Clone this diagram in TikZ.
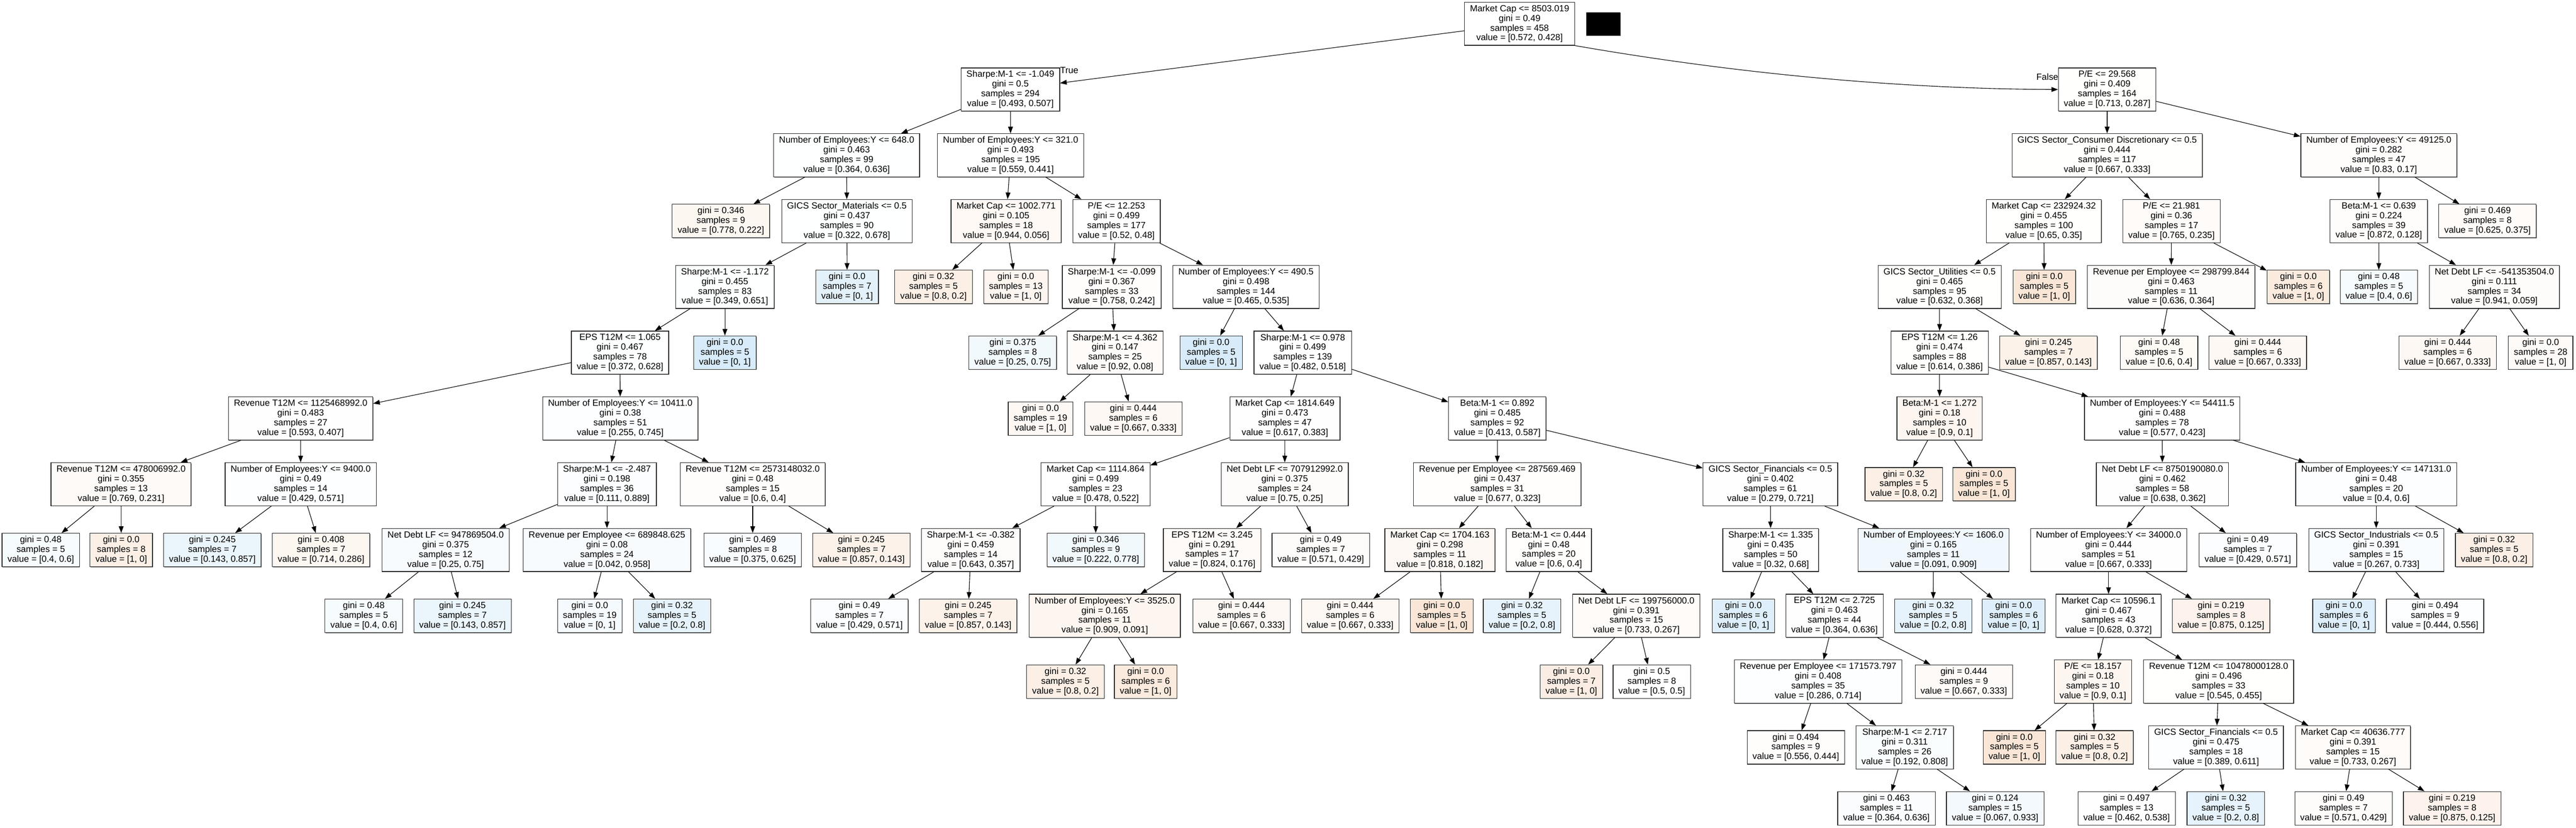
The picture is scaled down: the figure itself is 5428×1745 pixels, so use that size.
\documentclass[tikz,border=0pt]{standalone}
\usepackage{fontspec}
\setmainfont{Liberation Sans}
\usetikzlibrary{arrows.meta,shadows}
\definecolor{cO}{RGB}{229,129,57}
\definecolor{cB}{RGB}{57,157,229}
\newcommand\tfs{\fontsize{18.9}{20.5}\selectfont}
\tikzset{
 tnode/.style={draw=black!85, line width=1.3pt, rectangle, inner xsep=11.5pt, inner ysep=3pt,
   minimum height=91pt, align=center, font=\tfs,
   drop shadow={shadow xshift=1pt, shadow yshift=-1.2pt, fill=black!50, opacity=1}},
 leafbox/.style={tnode, minimum height=70.5pt},
 conn/.style={line width=1.2pt, -{Triangle[length=14pt,width=10pt]}},
 lbl/.style={font=\tfs, inner sep=0pt},
}
% decision node: name, x, y, condition, gini, samples, v0, v1
\newcommand\tnd[8]{%
 \pgfmathsetmacro\tmpal{100*abs(#7-#8)/(#6-min(#7,#8))}%
 \pgfmathtruncatemacro\tmpisb{(#7<#8)}%
 \ifnum\tmpisb=1 \def\tmpcc{cB}\else\def\tmpcc{cO}\fi
 \node[tnode, fill=\tmpcc!\tmpal!white] (#1) at (#2,#3) {#4\\gini = #5\\samples = #6\\value = [#7, #8]};}
% leaf: name, x, y, gini, samples, v0, v1
\newcommand\tlf[7]{%
 \pgfmathsetmacro\tmpal{100*abs(#6-#7)/(#5-min(#6,#7))}%
 \pgfmathtruncatemacro\tmpisb{(#6<#7)}%
 \ifnum\tmpisb=1 \def\tmpcc{cB}\else\def\tmpcc{cO}\fi
 \node[leafbox, fill=\tmpcc!\tmpal!white] (#1) at (#2,#3) {gini = #4\\samples = #5\\value = [#6, #7]};}
\begin{document}
\begin{tikzpicture}[x=1pt,y=-1pt]
\useasboundingbox (0,0) rectangle (5428,1745);
\fill[white] (0,0) rectangle (5428,1745);
% level 0
\tnd{n0}{3202}{50}{Market Cap <= 8503.019}{0.49}{458}{0.572}{0.428}
\node[fill=black, minimum width=72pt, minimum height=49pt, inner sep=0pt,
  drop shadow={shadow xshift=1pt, shadow yshift=-1.2pt, fill=black!50, opacity=1}] (blk) at (3378,50.5) {};
% level 1
\tnd{n1}{2129}{188.7}{Sharpe:M-1 <= -1.049}{0.5}{294}{0.493}{0.507}
\tnd{n2}{4440}{188.7}{P/E <= 29.568}{0.409}{164}{0.713}{0.287}
% level 2
\tnd{n3}{1784}{327.4}{Number of Employees:Y <= 648.0}{0.463}{99}{0.364}{0.636}
\tnd{n4}{2129.5}{327.4}{Number of Employees:Y <= 321.0}{0.493}{195}{0.559}{0.441}
\tnd{n5}{4440}{327.4}{GICS Sector\_Consumer Discretionary <= 0.5}{0.444}{117}{0.667}{0.333}
\tnd{n6}{5012.5}{327.4}{Number of Employees:Y <= 49125.0}{0.282}{47}{0.83}{0.17}
% level 3
\tlf{n7}{1519}{466.1}{0.346}{9}{0.778}{0.222}
\tnd{n8}{1784.5}{466.1}{GICS Sector\_Materials <= 0.5}{0.437}{90}{0.322}{0.678}
\tnd{n9}{2120}{466.1}{Market Cap <= 1002.771}{0.105}{18}{0.944}{0.056}
\tnd{n10}{2352.5}{466.1}{P/E <= 12.253}{0.499}{177}{0.52}{0.48}
\tnd{n11}{4306.5}{466.1}{Market Cap <= 232924.32}{0.455}{100}{0.65}{0.35}
\tnd{n12}{4575.5}{466.1}{P/E <= 21.981}{0.36}{17}{0.765}{0.235}
\tnd{n13}{5012.5}{466.1}{Beta:M-1 <= 0.639}{0.224}{39}{0.872}{0.128}
\tlf{n14}{5241.5}{466.1}{0.469}{8}{0.625}{0.375}
% level 4
\tnd{n15}{1527.5}{604.8}{Sharpe:M-1 <= -1.172}{0.455}{83}{0.349}{0.651}
\tlf{n16}{1785}{604.8}{0.0}{7}{0}{1}
\tlf{n17}{1967}{604.8}{0.32}{5}{0.8}{0.2}
\tlf{n18}{2140.5}{604.8}{0.0}{13}{1}{0}
\tnd{n19}{2342.5}{604.8}{Sharpe:M-1 <= -0.099}{0.367}{33}{0.758}{0.242}
\tnd{n20}{2625.5}{604.8}{Number of Employees:Y <= 490.5}{0.498}{144}{0.465}{0.535}
\tnd{n21}{4087}{604.8}{GICS Sector\_Utilities <= 0.5}{0.465}{95}{0.632}{0.368}
\tlf{n22}{4307.5}{604.8}{0.0}{5}{1}{0}
\tnd{n23}{4575}{604.8}{Revenue per Employee <= 298799.844}{0.463}{11}{0.636}{0.364}
\tlf{n24}{4843}{604.8}{0.0}{6}{1}{0}
\tlf{n25}{5012.5}{604.8}{0.48}{5}{0.4}{0.6}
\tnd{n26}{5256}{604.8}{Net Debt LF <= -541353504.0}{0.111}{34}{0.941}{0.059}
% level 5
\tnd{n27}{1306.5}{743.5}{EPS T12M <= 1.065}{0.467}{78}{0.372}{0.628}
\tlf{n28}{1527.5}{743.5}{0.0}{5}{0}{1}
\tlf{n29}{2134}{743.5}{0.375}{8}{0.25}{0.75}
\tnd{n30}{2349.5}{743.5}{Sharpe:M-1 <= 4.362}{0.147}{25}{0.92}{0.08}
\tlf{n31}{2552}{743.5}{0.0}{5}{0}{1}
\tnd{n32}{2745}{743.5}{Sharpe:M-1 <= 0.978}{0.499}{139}{0.482}{0.518}
\tnd{n33}{4087}{743.5}{EPS T12M <= 1.26}{0.474}{88}{0.614}{0.386}
\tlf{n34}{4316.5}{743.5}{0.245}{7}{0.857}{0.143}
\tlf{n35}{4549.5}{743.5}{0.48}{5}{0.6}{0.4}
\tlf{n36}{4757.5}{743.5}{0.444}{6}{0.667}{0.333}
\tlf{n37}{5157.5}{743.5}{0.444}{6}{0.667}{0.333}
\tlf{n38}{5353.5}{743.5}{0.0}{28}{1}{0}
% level 6
\tnd{n39}{633.5}{882.2}{Revenue T12M <= 1125468992.0}{0.483}{27}{0.593}{0.407}
\tnd{n40}{1307}{882.2}{Number of Employees:Y <= 10411.0}{0.38}{51}{0.255}{0.745}
\tlf{n41}{2192.5}{882.2}{0.0}{19}{1}{0}
\tlf{n42}{2388}{882.2}{0.444}{6}{0.667}{0.333}
\tnd{n43}{2707.5}{882.2}{Market Cap <= 1814.649}{0.473}{47}{0.617}{0.383}
\tnd{n44}{3155}{882.2}{Beta:M-1 <= 0.892}{0.485}{92}{0.413}{0.587}
\tnd{n45}{4087}{882.2}{Beta:M-1 <= 1.272}{0.18}{10}{0.9}{0.1}
\tnd{n46}{4556}{882.2}{Number of Employees:Y <= 54411.5}{0.488}{78}{0.577}{0.423}
% level 7
\tnd{n47}{255}{1020.9}{Revenue T12M <= 478006992.0}{0.355}{13}{0.769}{0.231}
\tnd{n48}{633.5}{1020.9}{Number of Employees:Y <= 9400.0}{0.49}{14}{0.429}{0.571}
\tnd{n49}{1279}{1020.9}{Sharpe:M-1 <= -2.487}{0.198}{36}{0.111}{0.889}
\tnd{n50}{1586}{1020.9}{Revenue T12M <= 2573148032.0}{0.48}{15}{0.6}{0.4}
\tnd{n51}{2308.5}{1020.9}{Market Cap <= 1114.864}{0.499}{23}{0.478}{0.522}
\tnd{n52}{2707}{1020.9}{Net Debt LF <= 707912992.0}{0.375}{24}{0.75}{0.25}
\tnd{n53}{3155}{1020.9}{Revenue per Employee <= 287569.469}{0.437}{31}{0.677}{0.323}
\tnd{n54}{3730.5}{1020.9}{GICS Sector\_Financials <= 0.5}{0.402}{61}{0.279}{0.721}
\tlf{n55}{4011.5}{1020.9}{0.32}{5}{0.8}{0.2}
\tlf{n56}{4180.5}{1020.9}{0.0}{5}{1}{0}
\tnd{n57}{4556.5}{1020.9}{Net Debt LF <= 8750190080.0}{0.462}{58}{0.638}{0.362}
\tnd{n58}{5007}{1020.9}{Number of Employees:Y <= 147131.0}{0.48}{20}{0.4}{0.6}
% level 8
\tlf{n59}{86}{1159.6}{0.48}{5}{0.4}{0.6}
\tlf{n60}{255.5}{1159.6}{0.0}{8}{1}{0}
\tlf{n61}{447.5}{1159.6}{0.245}{7}{0.143}{0.857}
\tlf{n62}{676.5}{1159.6}{0.408}{7}{0.714}{0.286}
\tnd{n63}{939}{1159.6}{Net Debt LF <= 947869504.0}{0.375}{12}{0.25}{0.75}
\tnd{n64}{1279}{1159.6}{Revenue per Employee <= 689848.625}{0.08}{24}{0.042}{0.958}
\tlf{n65}{1586}{1159.6}{0.469}{8}{0.375}{0.625}
\tlf{n66}{1815}{1159.6}{0.245}{7}{0.857}{0.143}
\tnd{n67}{2045.5}{1159.6}{Sharpe:M-1 <= -0.382}{0.459}{14}{0.643}{0.357}
\tlf{n68}{2309}{1159.6}{0.346}{9}{0.222}{0.778}
\tnd{n69}{2554}{1159.6}{EPS T12M <= 3.245}{0.291}{17}{0.824}{0.176}
\tlf{n70}{2783}{1159.6}{0.49}{7}{0.571}{0.429}
\tnd{n71}{3034}{1159.6}{Market Cap <= 1704.163}{0.298}{11}{0.818}{0.182}
\tnd{n72}{3263.5}{1159.6}{Beta:M-1 <= 0.444}{0.48}{20}{0.6}{0.4}
\tnd{n73}{3731}{1159.6}{Sharpe:M-1 <= 1.335}{0.435}{50}{0.32}{0.68}
\tnd{n74}{4074}{1159.6}{Number of Employees:Y <= 1606.0}{0.165}{11}{0.091}{0.909}
\tnd{n75}{4443}{1159.6}{Number of Employees:Y <= 34000.0}{0.444}{51}{0.667}{0.333}
\tlf{n76}{4736.5}{1159.6}{0.49}{7}{0.429}{0.571}
\tnd{n77}{5007}{1159.6}{GICS Sector\_Industrials <= 0.5}{0.391}{15}{0.267}{0.733}
\tlf{n78}{5255.5}{1159.6}{0.32}{5}{0.8}{0.2}
% level 9
\tlf{n79}{766.5}{1298.3}{0.48}{5}{0.4}{0.6}
\tlf{n80}{974.5}{1298.3}{0.245}{7}{0.143}{0.857}
\tlf{n81}{1242.7}{1298.3}{0.0}{19}{0}{1}
\tlf{n82}{1416}{1298.3}{0.32}{5}{0.2}{0.8}
\tlf{n83}{1811}{1298.3}{0.49}{7}{0.429}{0.571}
\tlf{n84}{2040}{1298.3}{0.245}{7}{0.857}{0.143}
\tnd{n85}{2328}{1298.3}{Number of Employees:Y <= 3525.0}{0.165}{11}{0.909}{0.091}
\tlf{n86}{2616}{1298.3}{0.444}{6}{0.667}{0.333}
\tlf{n87}{2845}{1298.3}{0.444}{6}{0.667}{0.333}
\tlf{n88}{3038}{1298.3}{0.0}{5}{1}{0}
\tlf{n89}{3207}{1298.3}{0.32}{5}{0.2}{0.8}
\tnd{n90}{3448}{1298.3}{Net Debt LF <= 199756000.0}{0.391}{15}{0.733}{0.267}
\tlf{n91}{3673.5}{1298.3}{0.0}{6}{0}{1}
\tnd{n92}{3865.5}{1298.3}{EPS T12M <= 2.725}{0.463}{44}{0.364}{0.636}
\tlf{n93}{4073.5}{1298.3}{0.32}{5}{0.2}{0.8}
\tlf{n94}{4243}{1298.3}{0.0}{6}{0}{1}
\tnd{n95}{4443}{1298.3}{Market Cap <= 10596.1}{0.467}{43}{0.628}{0.372}
\tlf{n96}{4680}{1298.3}{0.219}{8}{0.875}{0.125}
\tlf{n97}{4939}{1298.3}{0.0}{6}{0}{1}
\tlf{n98}{5131}{1298.3}{0.494}{9}{0.444}{0.556}
% level 10
\tlf{n99}{2245}{1437}{0.32}{5}{0.8}{0.2}
\tlf{n100}{2414}{1437}{0.0}{6}{1}{0}
\tlf{n101}{3311}{1437}{0.0}{7}{1}{0}
\tlf{n102}{3480.5}{1437}{0.5}{8}{0.5}{0.5}
\tnd{n103}{3831}{1437}{Revenue per Employee <= 171573.797}{0.408}{35}{0.286}{0.714}
\tlf{n104}{4138}{1437}{0.444}{9}{0.667}{0.333}
\tnd{n105}{4410}{1437}{P/E <= 18.157}{0.18}{10}{0.9}{0.1}
\tnd{n106}{4675}{1437}{Revenue T12M <= 10478000128.0}{0.496}{33}{0.545}{0.455}
% level 11
\tlf{n107}{3784}{1575.7}{0.494}{9}{0.556}{0.444}
\tnd{n108}{4013.5}{1575.7}{Sharpe:M-1 <= 2.717}{0.311}{26}{0.192}{0.808}
\tlf{n109}{4244.5}{1575.7}{0.0}{5}{1}{0}
\tlf{n110}{4413.5}{1575.7}{0.32}{5}{0.8}{0.2}
\tnd{n111}{4669.5}{1575.7}{GICS Sector\_Financials <= 0.5}{0.475}{18}{0.389}{0.611}
\tnd{n112}{4958}{1575.7}{Market Cap <= 40636.777}{0.391}{15}{0.733}{0.267}
% level 12
\tlf{n113}{3975}{1704}{0.463}{11}{0.364}{0.636}
\tlf{n114}{4204}{1704}{0.124}{15}{0.067}{0.933}
\tlf{n115}{4481}{1704}{0.497}{13}{0.462}{0.538}
\tlf{n116}{4690}{1704}{0.32}{5}{0.2}{0.8}
\tlf{n117}{4938}{1704}{0.49}{7}{0.571}{0.429}
\tlf{n118}{5167}{1704}{0.219}{8}{0.875}{0.125}
% labels
\node[lbl] (tlab) at (2253,148) {True};
\node[lbl] (flab) at (4314,162) {False};
% connectors
\foreach \p/\c in {n0/n1, n1/n3, n1/n4, n3/n7, n3/n8, n4/n9, n4/n10, n8/n15, n8/n16,
  n9/n17, n9/n18, n10/n19, n10/n20, n2/n5, n2/n6, n5/n11, n5/n12, n6/n13, n6/n14,
  n11/n21, n11/n22, n12/n23, n12/n24, n13/n25, n13/n26, n15/n27, n15/n28, n19/n29,
  n19/n30, n20/n31, n20/n32, n21/n33, n21/n34, n23/n35, n23/n36, n26/n37, n26/n38,
  n27/n39, n27/n40, n30/n41, n30/n42, n32/n43, n32/n44, n33/n45, n33/n46, n39/n47,
  n39/n48, n40/n49, n40/n50, n43/n51, n43/n52, n44/n53, n44/n54, n45/n55, n45/n56,
  n46/n57, n46/n58, n47/n59, n47/n60, n48/n61, n48/n62, n49/n63, n49/n64, n50/n65,
  n50/n66, n51/n67, n51/n68, n52/n69, n52/n70, n53/n71, n53/n72, n54/n73, n54/n74,
  n57/n75, n57/n76, n58/n77, n58/n78, n63/n79, n63/n80, n64/n81, n64/n82, n67/n83,
  n67/n84, n69/n85, n69/n86, n71/n87, n71/n88, n72/n89, n72/n90, n73/n91, n73/n92,
  n74/n93, n74/n94, n75/n95, n75/n96, n77/n97, n77/n98, n85/n99, n85/n100, n90/n101,
  n90/n102, n92/n103, n92/n104, n95/n105, n95/n106, n103/n107, n103/n108, n105/n109,
  n105/n110, n106/n111, n106/n112, n108/n113, n108/n114, n111/n115, n111/n116,
  n112/n117, n112/n118}
  \draw[conn] (\p) -- (\c);
\draw[conn] (n0.south east) .. controls (3600,145) and (3950,187) .. (n2.west);
\end{tikzpicture}
\end{document}
